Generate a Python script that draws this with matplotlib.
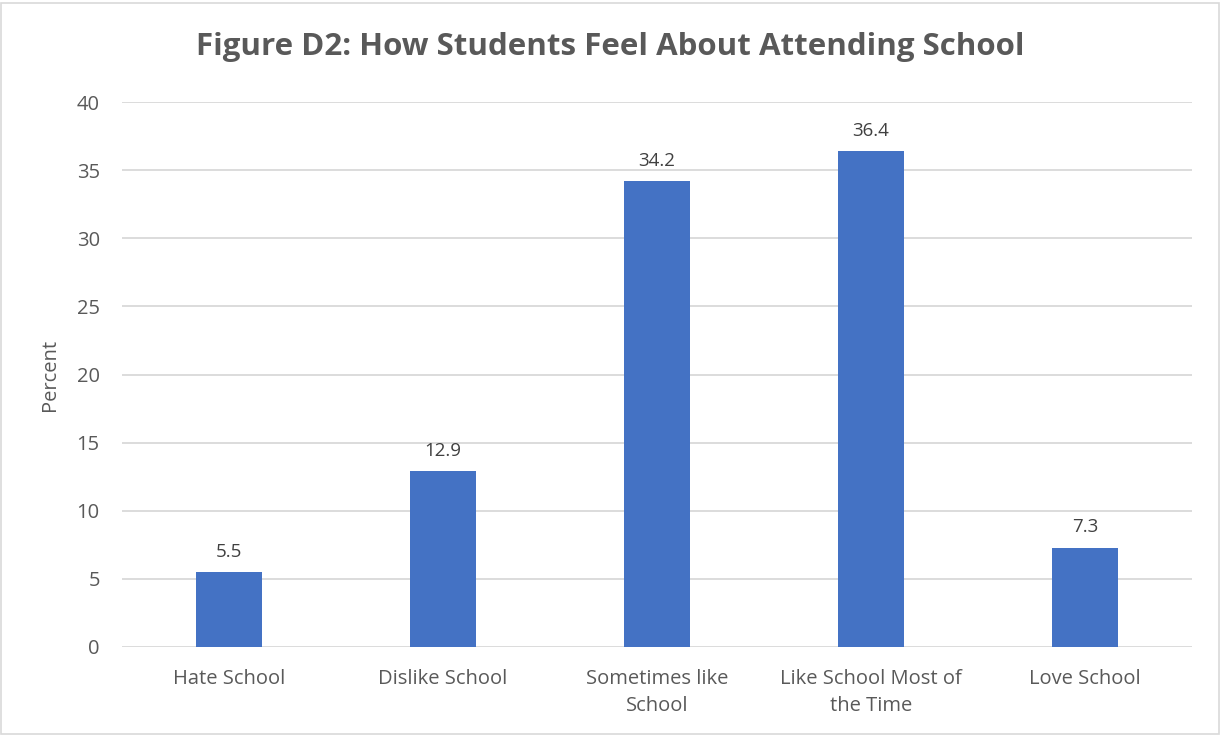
import matplotlib
matplotlib.use("Agg")
import matplotlib.pyplot as plt
from matplotlib.patches import Rectangle

categories = ["Hate School", "Dislike School", "Sometimes like\nSchool", "Like School Most of\nthe Time", "Love School"]
values = [5.5, 12.9, 34.2, 36.4, 7.3]
yticks = [0, 5, 10, 15, 20, 25, 30, 35, 40]

plt.rcParams['font.family'] = ['Open Sans', 'DejaVu Sans']
txt = "#595959"

fig = plt.figure(figsize=(12.21, 7.36), dpi=100)
ax = fig.add_axes([122/1221, 89/736, 1070/1221, 545/736])

x = list(range(len(categories)))
bars = ax.bar(x, values, width=0.313, color="#4472C4", zorder=3)
for xi, v in zip(x, values):
    ax.annotate(f"{v}", (xi, v), xytext=(0, 8), textcoords="offset points",
                ha="center", va="bottom", fontsize=13.5, color="#404040")

ax.set_xlim(-0.5, len(categories) - 0.5)
ax.set_ylim(0, 40)
ax.set_yticks(yticks)
ax.set_xticks(x)
ax.set_xticklabels(categories, fontsize=14.5, color=txt, linespacing=1.45)
ax.tick_params(axis='y', labelsize=14.5, labelcolor=txt, length=0, pad=16)
ax.tick_params(axis='x', length=0, pad=16)
ax.yaxis.grid(True, color="#d9d9d9", linewidth=1.3, zorder=0)
for s in ax.spines.values():
    s.set_visible(False)
ax.set_ylabel("Percent", fontsize=14.5, color=txt, labelpad=12)

fig.text(0.5, 1 - 47/736, "Figure D2: How Students Feel About Attending School",
         ha="center", va="center", fontsize=22.5, fontweight="bold", color=txt)

fig.patches.append(Rectangle((1/1221, 2/736), 1218/1221, 731/736, transform=fig.transFigure,
                             fill=False, edgecolor="#d9d9d9", linewidth=1.2))

fig.savefig("out.png", dpi=100)
